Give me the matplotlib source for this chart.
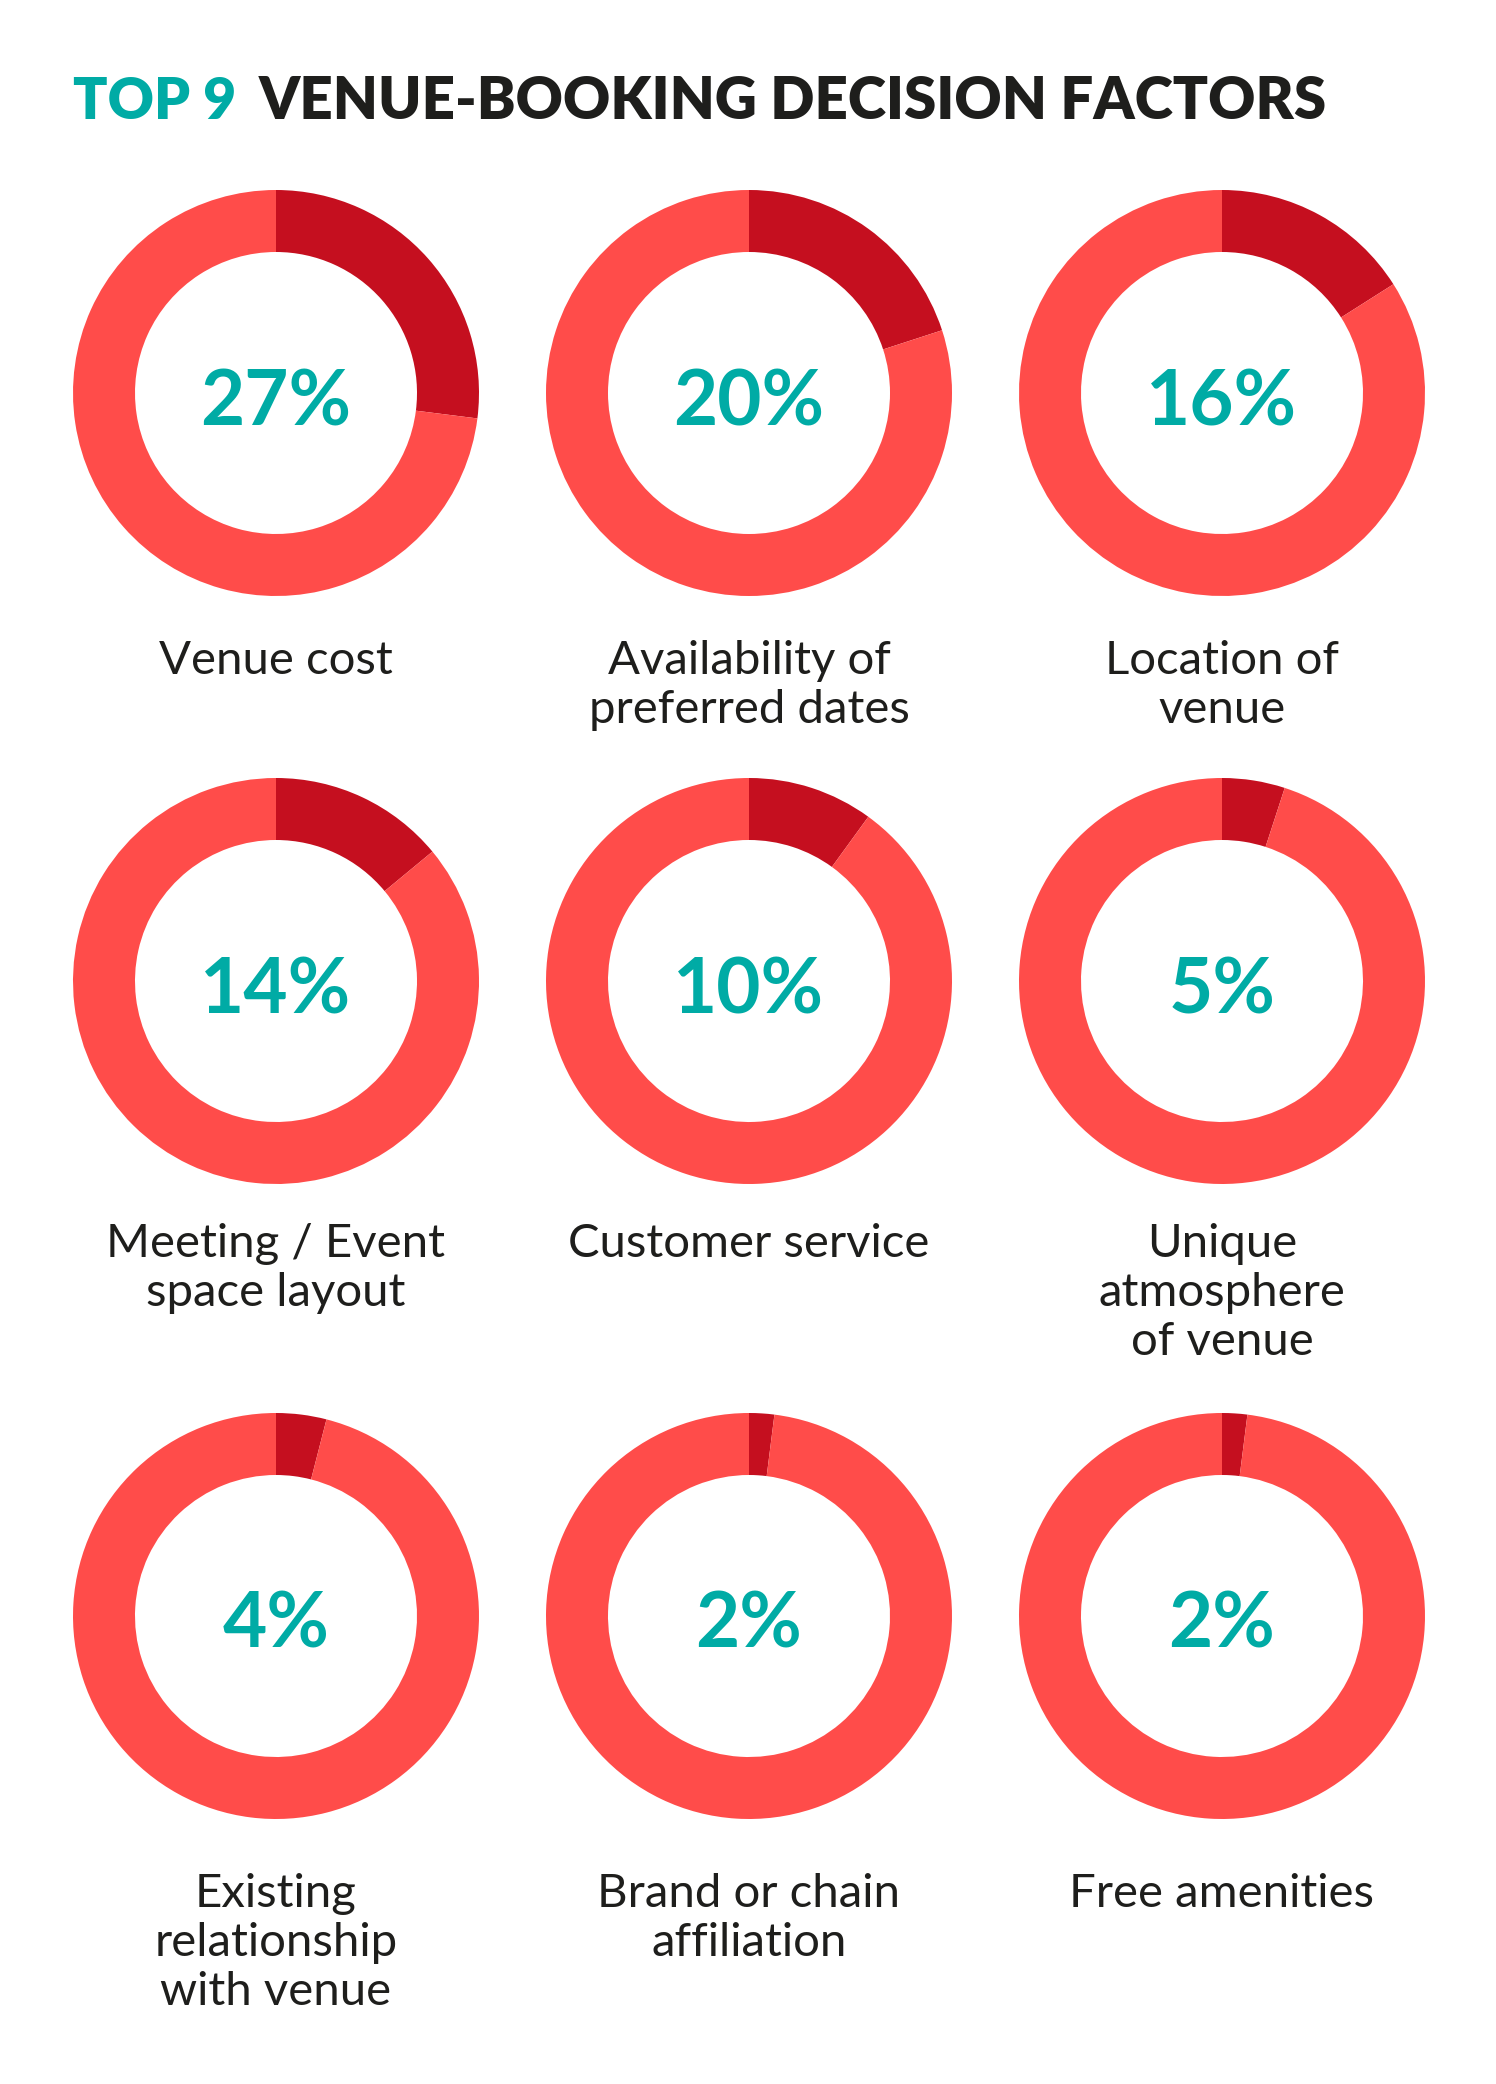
import matplotlib
matplotlib.use("Agg")
import matplotlib.pyplot as plt

# ---- data ----
factors = [
    "Venue cost",
    "Availability of\npreferred dates",
    "Location of\nvenue",
    "Meeting / Event\nspace layout",
    "Customer service",
    "Unique\natmosphere\nof venue",
    "Existing\nrelationship\nwith venue",
    "Brand or chain\naffiliation",
    "Free amenities",
]
shares = [27, 20, 16, 14, 10, 5, 4, 2, 2]
title_highlight = "TOP 9"
title_rest = "VENUE-BOOKING DECISION FACTORS"

# ---- style / layout ----
W, H = 1496, 2084
DARK = "#C50F1F"
LIGHT = "#FF4C4A"
TEAL = "#00ABA5"
INK = "#1E1E1C"
col_x = [276, 749, 1222]
row_y = [393, 981, 1616]
label_base = [674, 1257, 1907]
R_OUT, R_IN = 203, 141
LINE_STEP = 49

fig = plt.figure(figsize=(W / 100, H / 100), dpi=100)
fig.patch.set_facecolor("white")
ax = fig.add_axes([0, 0, 1, 1])

for i, (lab, val) in enumerate(zip(factors, shares)):
    r, c = divmod(i, 3)
    cx, cy = col_x[c], H - row_y[r]
    ax.pie([val, 100 - val], colors=[DARK, LIGHT], startangle=90,
           counterclock=False, center=(cx, cy), radius=R_OUT,
           wedgeprops=dict(width=R_OUT - R_IN, linewidth=0))
    ax.text(cx, cy - 32, f"{val}%", ha="center", va="baseline",
            fontsize=55, fontweight="bold", color=TEAL, family="Lato")
    for k, line in enumerate(lab.split("\n")):
        ax.text(cx, H - (label_base[r] + k * LINE_STEP), line, ha="center",
                va="baseline", fontsize=34, fontweight="normal", color=INK,
                family="Lato")

ax.set_xlim(0, W)
ax.set_ylim(0, H)
ax.set_aspect("auto")
ax.axis("off")

# title, sized to span the same width as the reference
t1 = ax.text(73, H - 119, title_highlight, ha="left", va="baseline",
             fontsize=44, fontweight="heavy", color=TEAL, family="Lato")
t2 = ax.text(259, H - 119, title_rest, ha="left", va="baseline",
             fontsize=44, fontweight="heavy", color=INK, family="Lato")
fig.canvas.draw()
rend = fig.canvas.get_renderer()
w2 = t2.get_window_extent(rend).width
scale = (1326 - 259) / w2
w1 = t1.get_window_extent(rend).width
scale1 = (236 - 73) / w1
t1.set_fontsize(44 * scale1)
t2.set_fontsize(44 * scale)

fig.savefig("out.png", dpi=100, facecolor="white")
